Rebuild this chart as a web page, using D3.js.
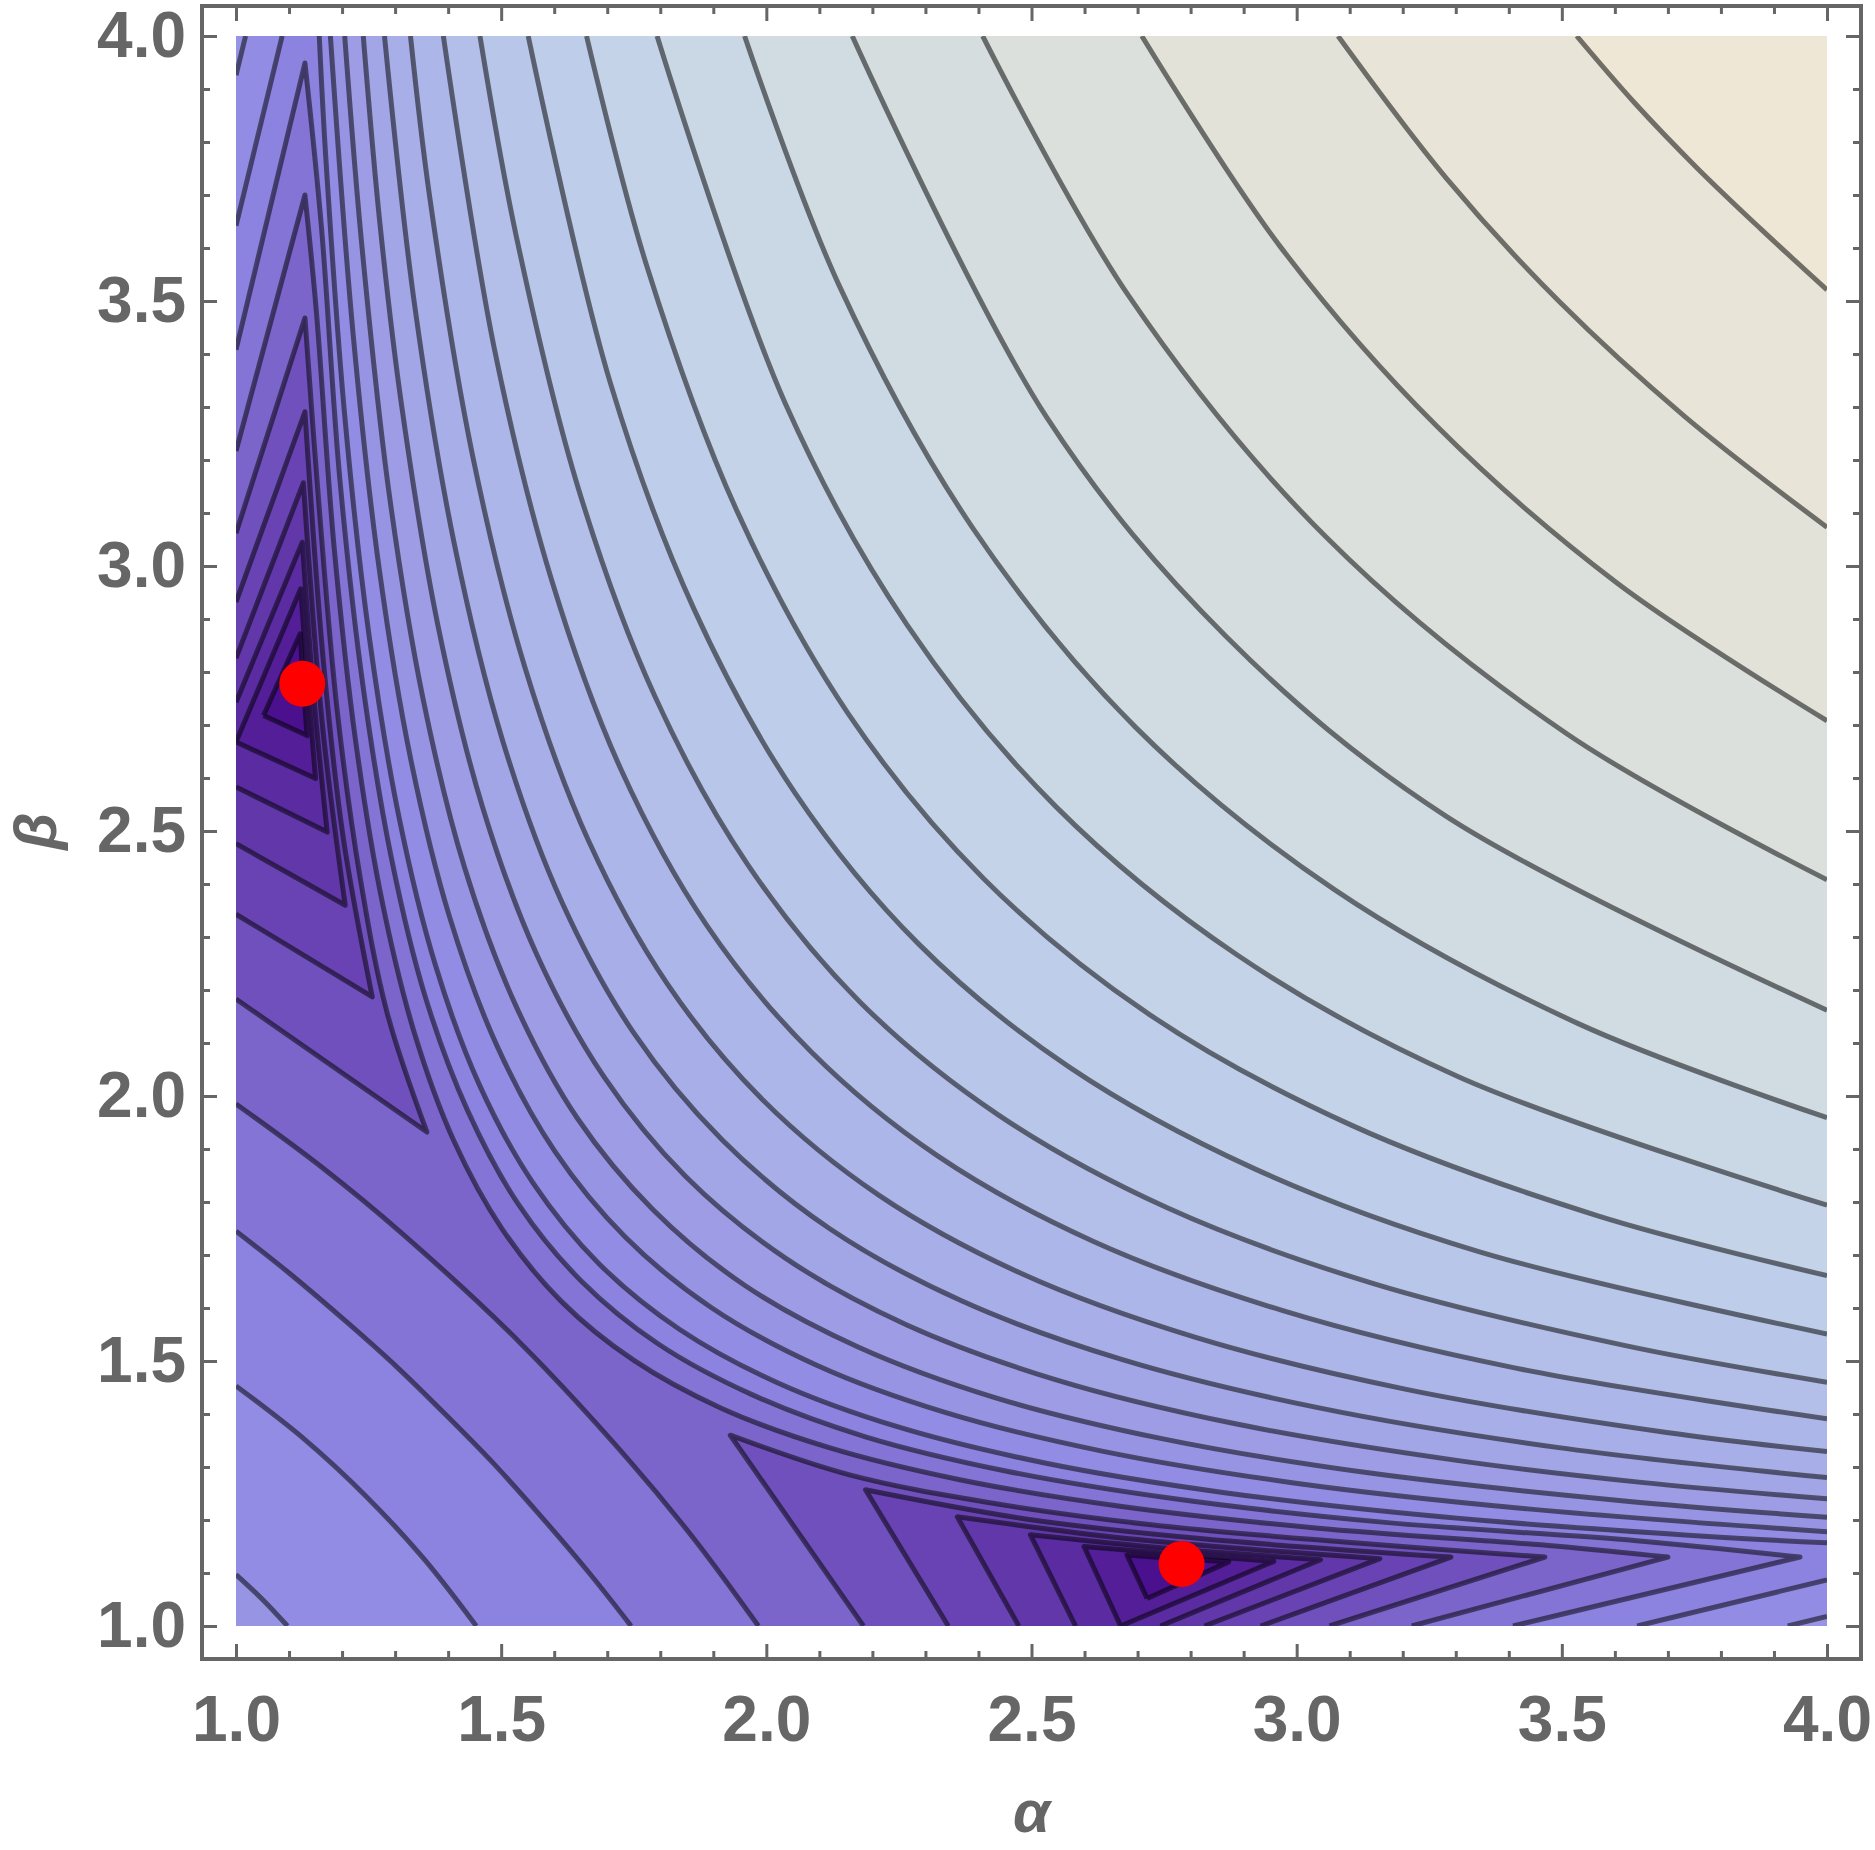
<!DOCTYPE html>
<html>
<head>
<meta charset="utf-8">
<script src="https://cdn.jsdelivr.net/npm/d3@7"></script>
<style>
  body { margin: 0; background: #fff; }
  svg { display: block; }
</style>
</head>
<body>
<svg id="chart" width="1875" height="1850"></svg>
<script>
// ---- contour lines, as [alpha, beta] points ----

// levels 7..25: the long arcs above the valley, from the right end to the top end
const upperArcs = [
  [[3.70,1.13],[3.487,1.151],[3.036,1.185],[2.667,1.226],[2.365,1.276],[2.117,1.337],[1.915,1.411],[1.749,1.502],[1.613,1.613],[1.502,1.749],[1.411,1.915],[1.337,2.117],[1.276,2.365],[1.226,2.667],[1.185,3.036],[1.151,3.487],[1.13,3.70]],
  [[3.949,1.13],[3.641,1.161],[3.162,1.196],[2.77,1.24],[2.449,1.293],[2.187,1.357],[1.972,1.437],[1.795,1.533],[1.651,1.651],[1.533,1.795],[1.437,1.972],[1.357,2.187],[1.293,2.449],[1.24,2.77],[1.196,3.162],[1.161,3.641],[1.13,3.949]],
  [[4,1.157],[3.776,1.169],[3.273,1.206],[2.861,1.252],[2.523,1.308],[2.247,1.376],[2.021,1.459],[1.836,1.56],[1.684,1.684],[1.56,1.836],[1.459,2.021],[1.376,2.247],[1.308,2.523],[1.252,2.861],[1.206,3.273],[1.169,3.776],[1.157,4]],
  [[4,1.178],[3.436,1.221],[2.995,1.27],[2.633,1.33],[2.337,1.403],[2.095,1.492],[1.896,1.601],[1.734,1.734],[1.601,1.896],[1.492,2.095],[1.403,2.337],[1.33,2.633],[1.27,2.995],[1.221,3.436],[1.178,4]],
  [[4,1.205],[3.608,1.237],[3.135,1.289],[2.748,1.353],[2.431,1.431],[2.172,1.527],[1.959,1.643],[1.786,1.786],[1.643,1.959],[1.527,2.172],[1.431,2.431],[1.353,2.748],[1.289,3.135],[1.237,3.608],[1.205,4]],
  [[4,1.24],[3.65,1.271],[3.305,1.312],[2.887,1.381],[2.545,1.465],[2.265,1.568],[2.036,1.694],[1.848,1.848],[1.694,2.036],[1.568,2.265],[1.465,2.545],[1.381,2.887],[1.312,3.305],[1.271,3.65],[1.24,4]],
  [[4,1.28],[3.491,1.337],[3.04,1.412],[2.67,1.503],[2.367,1.614],[2.119,1.75],[1.917,1.917],[1.75,2.119],[1.614,2.367],[1.503,2.67],[1.412,3.04],[1.337,3.491],[1.28,4]],
  [[4,1.329],[3.698,1.365],[3.209,1.446],[2.808,1.545],[2.481,1.665],[2.212,1.813],[1.993,1.993],[1.813,2.212],[1.665,2.481],[1.545,2.808],[1.446,3.209],[1.365,3.698],[1.329,4]],
  [[4,1.391],[3.411,1.487],[2.974,1.595],[2.616,1.726],[2.323,1.887],[2.084,2.084],[1.887,2.323],[1.726,2.616],[1.595,2.974],[1.487,3.411],[1.391,4]],
  [[4,1.46],[3.62,1.529],[3.145,1.646],[2.756,1.789],[2.438,1.964],[2.177,2.177],[1.964,2.438],[1.789,2.756],[1.646,3.145],[1.529,3.62],[1.46,4]],
  [[4,1.551],[3.345,1.706],[2.92,1.863],[2.572,2.054],[2.287,2.287],[2.054,2.572],[1.863,2.92],[1.706,3.345],[1.551,4]],
  [[4,1.661],[3.568,1.774],[3.103,1.945],[2.722,2.154],[2.41,2.41],[2.154,2.722],[1.945,3.103],[1.774,3.568],[1.661,4]],
  [[4,1.794],[3.306,2.036],[2.888,2.266],[2.546,2.546],[2.266,2.888],[2.036,3.306],[1.794,4]],
  [[4,1.959],[3.53,2.137],[3.072,2.389],[2.696,2.696],[2.389,3.072],[2.137,3.53],[1.959,4]],
  [[4,2.162],[3.28,2.529],[2.867,2.867],[2.529,3.28],[2.162,4]],
  [[4,2.408],[3.51,2.683],[3.055,3.055],[2.683,3.51],[2.408,4]],
  [[4,2.708],[3.604,2.968],[3.264,3.264],[2.968,3.604],[2.708,4]],
  [[4,3.073],[3.732,3.282],[3.497,3.497],[3.282,3.732],[3.078,4]],
  [[4,3.521],[3.874,3.637],[3.753,3.753],[3.637,3.874],[3.528,4]]
];

// levels 7..10: straight arms in the lower right corner (bottom -> right)
const bottomRightArms = [
  [[3.217,1],[3.70,1.13]],
  [[3.408,1],[3.949,1.13]],
  [[3.642,1],[4,1.087]],
  [[3.926,1],[4,1.018]]
];
// levels 7..10: straight arms in the upper left corner (top -> left)
const topLeftArms = [
  [[1.13,3.70],[1,3.217]],
  [[1.13,3.949],[1,3.408]],
  [[1.087,4],[1,3.642]],
  [[1.018,4],[1,3.926]]
];
// levels 7..10: curves round the lower left corner (left edge -> bottom)
const lowerLeftArcs = [
  [[1,1.985],[1.16,1.867],[1.315,1.739],[1.535,1.535],[1.739,1.315],[1.867,1.16],[1.985,1]],
  [[1,1.745],[1.10,1.666],[1.215,1.568],[1.304,1.488],[1.397,1.397],[1.488,1.304],[1.568,1.215],[1.666,1.10],[1.745,1]],
  [[1,1.453],[1.127,1.354],[1.245,1.245],[1.354,1.127],[1.453,1]],
  [[1,1.097],[1.05,1.05],[1.097,1]]
];

// levels 1..6: wedges round the lower-right minimum (left tip -> right tip)
const wedgeArcsRight = [
  [[2.68,1.134],[2.776,1.127],[2.872,1.121]],
  [[2.599,1.15],[2.77,1.136],[2.957,1.122]],
  [[2.498,1.172],[2.75,1.147],[3.045,1.125]],
  [[2.36,1.206],[2.7,1.163],[3.157,1.127]],
  [[2.187,1.257],[2.489,1.202],[2.818,1.165],[3.291,1.13]],
  [[1.932,1.36],[2.157,1.285],[2.413,1.234],[2.726,1.191],[3.108,1.157],[3.468,1.13]]
];
const wedgeEndsRightLow  = [[2.718,1.052],[2.668,1],[2.583,1],[2.476,1],[2.343,1],[2.183,1]];
const wedgeEndsRightHigh = [[2.718,1.052],[2.668,1],[2.743,1],[2.826,1],[2.932,1],[3.062,1]];

// levels 1..6: wedges round the upper-left minimum (lower tip -> upper tip)
const wedgeArcsLeft = [
  [[1.134,2.68],[1.127,2.776],[1.121,2.872]],
  [[1.15,2.599],[1.136,2.77],[1.122,2.957]],
  [[1.172,2.498],[1.147,2.75],[1.125,3.045]],
  [[1.206,2.36],[1.163,2.7],[1.127,3.157]],
  [[1.257,2.187],[1.202,2.489],[1.165,2.818],[1.13,3.291]],
  [[1.36,1.932],[1.285,2.157],[1.234,2.413],[1.191,2.726],[1.157,3.108],[1.13,3.468]]
];
const wedgeEndsLeftLow  = [[1.052,2.718],[1,2.668],[1,2.583],[1,2.476],[1,2.343],[1,2.183]];
const wedgeEndsLeftHigh = [[1.052,2.718],[1,2.668],[1,2.743],[1,2.826],[1,2.932],[1,3.062]];

const minima = [[1.125,2.778],[2.783,1.117]];

const majorTicks = [1, 1.5, 2, 2.5, 3, 3.5, 4];
const tickLabels = ['1.0', '1.5', '2.0', '2.5', '3.0', '3.5', '4.0'];

// fill of each band, band 0 = inside level 1 ... band 25 = above level 25
const bandColors = [
  '#4a108e','#531e98','#5b2ba2','#6237aa','#6943b3','#7050bc','#7b64ca','#8474d6',
  '#8c82e0','#928ce4','#9894e4','#9d9ce5','#a2a5e6','#a8aee7','#adb6e8','#b3bee9',
  '#b8c6e9','#becde9','#c4d3e8','#cad8e5','#d0dbe2','#d6dddf','#dce0dc','#e2e2d9',
  '#e8e4d7','#efe7d5'
];

// ---- drawing ----
const svg = d3.select('#chart');
const frame = {left: 202, right: 1861, top: 6, bottom: 1659};
const x = d3.scaleLinear().domain([1, 4]).range([236, 1827]);
const y = d3.scaleLinear().domain([1, 4]).range([1626, 36]);

const curveLine = d3.line()
  .x(d => x(d[0]))
  .y(d => y(d[1]))
  .curve(d3.curveCatmullRom.alpha(0.5));

// join several pieces into one path, keeping the corners between pieces sharp
function joinPieces(pieces) {
  return pieces.map((p, i) => {
    const s = curveLine(p);
    return i === 0 ? s : 'L' + s.slice(1);
  }).join('');
}

function wedgeRight(i) {
  const arc = wedgeArcsRight[i];
  return [[wedgeEndsRightLow[i], arc[0]], arc, [arc[arc.length - 1], wedgeEndsRightHigh[i]]];
}
function wedgeLeft(i) {
  const arc = wedgeArcsLeft[i];
  return [[wedgeEndsLeftLow[i], arc[0]], arc, [arc[arc.length - 1], wedgeEndsLeftHigh[i]]];
}

// region where the value is below a level
function regionPath(level) {
  if (level <= 6) {
    return joinPieces(wedgeRight(level - 1)) + 'Z' + joinPieces(wedgeLeft(level - 1)) + 'Z';
  }
  const k = level - 7;
  const arc = upperArcs[k];
  if (level <= 8) {
    return joinPieces([bottomRightArms[k], arc, topLeftArms[k], lowerLeftArcs[k]]) + 'Z';
  }
  if (level <= 10) {
    return joinPieces([arc, topLeftArms[k], lowerLeftArcs[k], bottomRightArms[k]]) + 'Z';
  }
  return curveLine(arc) + [[1, 4], [1, 1], [4, 1]].map(p => `L${x(p[0])},${y(p[1])}`).join('') + 'Z';
}

// the drawn pieces of each contour level
function lineComponents(level) {
  if (level <= 6) return [wedgeRight(level - 1), wedgeLeft(level - 1)];
  const k = level - 7;
  const arc = upperArcs[k];
  if (level <= 8) return [[bottomRightArms[k], arc, topLeftArms[k]], [lowerLeftArcs[k]]];
  if (level <= 10) return [[arc], [topLeftArms[k]], [lowerLeftArcs[k]], [bottomRightArms[k]]];
  return [[arc]];
}

svg.append('defs').append('clipPath').attr('id', 'plotClip')
  .append('rect')
  .attr('x', x(1)).attr('y', y(4))
  .attr('width', x(4) - x(1)).attr('height', y(1) - y(4));

const plot = svg.append('g').attr('clip-path', 'url(#plotClip)');

plot.append('rect')
  .attr('x', x(1)).attr('y', y(4))
  .attr('width', x(4) - x(1)).attr('height', y(1) - y(4))
  .attr('fill', bandColors[25]);

const levels = d3.range(25, 0, -1);

plot.selectAll('path.band')
  .data(levels)
  .join('path')
    .attr('class', 'band')
    .attr('d', d => regionPath(d))
    .attr('fill', d => bandColors[d - 1])
    .attr('stroke', d => bandColors[d - 1])
    .attr('stroke-width', 0.6);

const lineData = levels.flatMap(l => lineComponents(l).map(c => ({level: l, pieces: c})));

plot.selectAll('path.contour')
  .data(lineData)
  .join('path')
    .attr('class', 'contour')
    .attr('d', d => joinPieces(d.pieces))
    .attr('fill', 'none')
    .attr('stroke', '#000')
    .attr('stroke-opacity', 0.52)
    .attr('stroke-width', 5)
    .attr('stroke-linejoin', 'round');

svg.selectAll('circle.minimum')
  .data(minima)
  .join('circle')
    .attr('class', 'minimum')
    .attr('cx', d => x(d[0]))
    .attr('cy', d => y(d[1]))
    .attr('r', 23)
    .attr('fill', '#ff0000');

// ---- frame with inward ticks on all four sides ----
const minorTicks = d3.range(10, 41).map(v => v / 10).filter(v => !majorTicks.includes(v));
const fontFamily = '"Liberation Sans", Arial, Helvetica, sans-serif';

const sides = [
  {gen: d3.axisBottom, scale: x, pos: `translate(0,${frame.bottom})`, labels: true, pad: 37},
  {gen: d3.axisTop,    scale: x, pos: `translate(0,${frame.top})`,    labels: false, pad: 10},
  {gen: d3.axisLeft,   scale: y, pos: `translate(${frame.left},0)`,   labels: true, pad: 16},
  {gen: d3.axisRight,  scale: y, pos: `translate(${frame.right},0)`,  labels: false, pad: 10}
];

sides.forEach(s => {
  const major = s.gen(s.scale)
    .tickValues(majorTicks)
    .tickSizeInner(-15)
    .tickSizeOuter(0)
    .tickPadding(s.pad)
    .tickFormat((d, i) => s.labels ? tickLabels[i] : '');
  const minor = s.gen(s.scale)
    .tickValues(minorTicks)
    .tickSizeInner(-8)
    .tickSizeOuter(0)
    .tickFormat(() => '');

  const g = svg.append('g').attr('transform', s.pos).call(major);
  const gm = svg.append('g').attr('transform', s.pos).call(minor);
  [g, gm].forEach(a => {
    a.select('.domain').remove();
    a.selectAll('line').attr('stroke', '#666').attr('stroke-width', 3);
  });
  g.attr('font-size', 64)
   .attr('font-family', fontFamily)
   .attr('font-weight', 'bold');
  g.selectAll('text').attr('fill', '#666');
});

svg.append('rect')
  .attr('x', frame.left).attr('y', frame.top)
  .attr('width', frame.right - frame.left)
  .attr('height', frame.bottom - frame.top)
  .attr('fill', 'none')
  .attr('stroke', '#666')
  .attr('stroke-width', 4);

svg.append('text')
  .attr('x', (x(1) + x(4)) / 2)
  .attr('y', 1832)
  .attr('text-anchor', 'middle')
  .attr('font-family', fontFamily)
  .attr('font-size', 60)
  .attr('font-weight', 'bold')
  .attr('font-style', 'italic')
  .attr('fill', '#666')
  .text('α');

svg.append('text')
  .attr('transform', `translate(56,${(y(1) + y(4)) / 2}) rotate(-90)`)
  .attr('text-anchor', 'middle')
  .attr('font-family', fontFamily)
  .attr('font-size', 60)
  .attr('font-weight', 'bold')
  .attr('font-style', 'italic')
  .attr('fill', '#666')
  .text('β');
</script>
</body>
</html>
